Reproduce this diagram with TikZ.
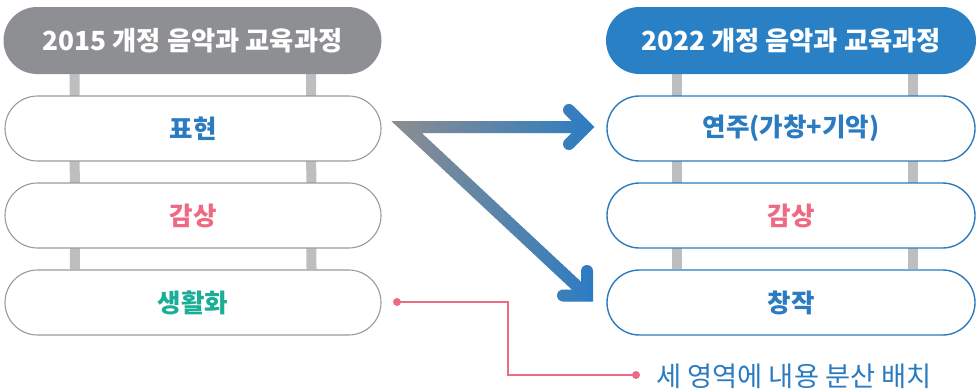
\documentclass[tikz,border=0pt]{standalone}
\usepackage{fontspec}
\setmainfont{Noto Sans CJK KR}
\usetikzlibrary{shapes.misc,backgrounds}
\definecolor{hdgray}{HTML}{8E8F92}
\definecolor{hdblue}{HTML}{2A80C4}
\definecolor{bargray}{HTML}{BDBEC0}
\definecolor{boxgray}{HTML}{9A9A9A}
\definecolor{boxblue}{HTML}{2B7BC0}
\definecolor{txtblue}{HTML}{2B7BC0}
\definecolor{txtpink}{HTML}{EE6A84}
\definecolor{txtteal}{HTML}{1AAE96}
\definecolor{arrgray}{HTML}{8C8D90}
\definecolor{arrblue}{HTML}{2C7CC3}
\tikzset{
  pill/.style={shape=rounded rectangle, inner sep=0pt, minimum height=65pt},
  header/.style={pill, minimum height=67pt, text=white, font=\bfseries\fontsize{26.3}{30}\selectfont},
  lbox/.style={pill, draw=boxgray, line width=1.1pt, fill=white, minimum width=376pt, font=\bfseries\fontsize{25.5}{29}\selectfont},
  rbox/.style={pill, draw=boxblue, line width=1.4pt, fill=white, minimum width=368pt, font=\bfseries\fontsize{25.5}{29}\selectfont},
  bar/.style={draw=bargray, line width=10pt},
  pinkline/.style={draw=txtpink, line width=1.5pt},
  pdot/.style={circle, fill=txtpink, inner sep=0pt, minimum size=8pt},
}
\begin{document}
\begin{tikzpicture}[x=1pt,y=-1pt]
\useasboundingbox (0,0) rectangle (976,391);
% left column
\node[header, fill=hdgray, minimum width=378pt] (lh) at (192.5,40.5) {2015 개정 음악과 교육과정};
\node[lbox, text=txtblue] (l1) at (193,128.5) {표현};
\node[lbox, text=txtpink] (l2) at (193,215.5) {감상};
\node[lbox, text=txtteal] (l3) at (193,302.5) {생활화};
% right column
\node[header, fill=hdblue, minimum width=370pt] (rh) at (791,40.5) {2022 개정 음악과 교육과정};
\node[rbox, text=txtblue] (r1) at (791,128.5) {연주(가창+기악)};
\node[rbox, text=txtpink] (r2) at (791,215.5) {감상};
\node[rbox, text=txtblue] (r3) at (791,302.5) {창작};
\begin{scope}[on background layer]
  \draw[bar] ([xshift=-118pt]lh.south) -- ([xshift=-118pt]l3.north);
  \draw[bar] ([xshift=118.5pt]lh.south) -- ([xshift=118.5pt]l3.north);
  \draw[bar] ([xshift=-114pt]rh.south) -- ([xshift=-114pt]r3.north);
  \draw[bar] ([xshift=121.5pt]rh.south) -- ([xshift=121.5pt]r3.north);
\end{scope}
% gradient arrows
\coordinate (av) at (406.5,127);
\coordinate (ate) at (584,127);
\coordinate (abe) at (584.5,293.2);
\coordinate (at) at (586,127);
\coordinate (ta1) at (569,110);
\coordinate (ta2) at (569,144);
\coordinate (ab) at (587,295.5);
\coordinate (ba1) at (587,271);
\coordinate (ba2) at (563,295.5);
\foreach \i in {0,...,52} {
  \pgfmathsetmacro\xa{390+4*\i}
  \pgfmathtruncatemacro\pc{min(100,max(0,(\xa+2-392)/(594-392)*100))}
  \begin{scope}
    \clip (\xa,95) rectangle (\xa+4.6,320);
    \colorlet{cc}{arrblue!\pc!arrgray}
    \draw[cc, line width=12pt, line join=miter] (ate) -- (av) -- (abe);
    \draw[cc, line width=12pt, line join=miter, line cap=round] (ta1) -- (at) -- (ta2) (ba1) -- (ab) -- (ba2);
  \end{scope}
}
% note connector
\node[pdot] (d1) at (397,302) {};
\node[pdot] (d2) at (636,375) {};
\coordinate (c1) at (508,302);
\draw[pinkline] (d1.center) -- (c1) |- (d2.center);
\node[anchor=west, inner sep=0pt, text=txtblue, font=\fontsize{27.3}{31}\selectfont] (note) at (656,376) {세 영역에 내용 분산 배치};
\end{tikzpicture}
\end{document}
